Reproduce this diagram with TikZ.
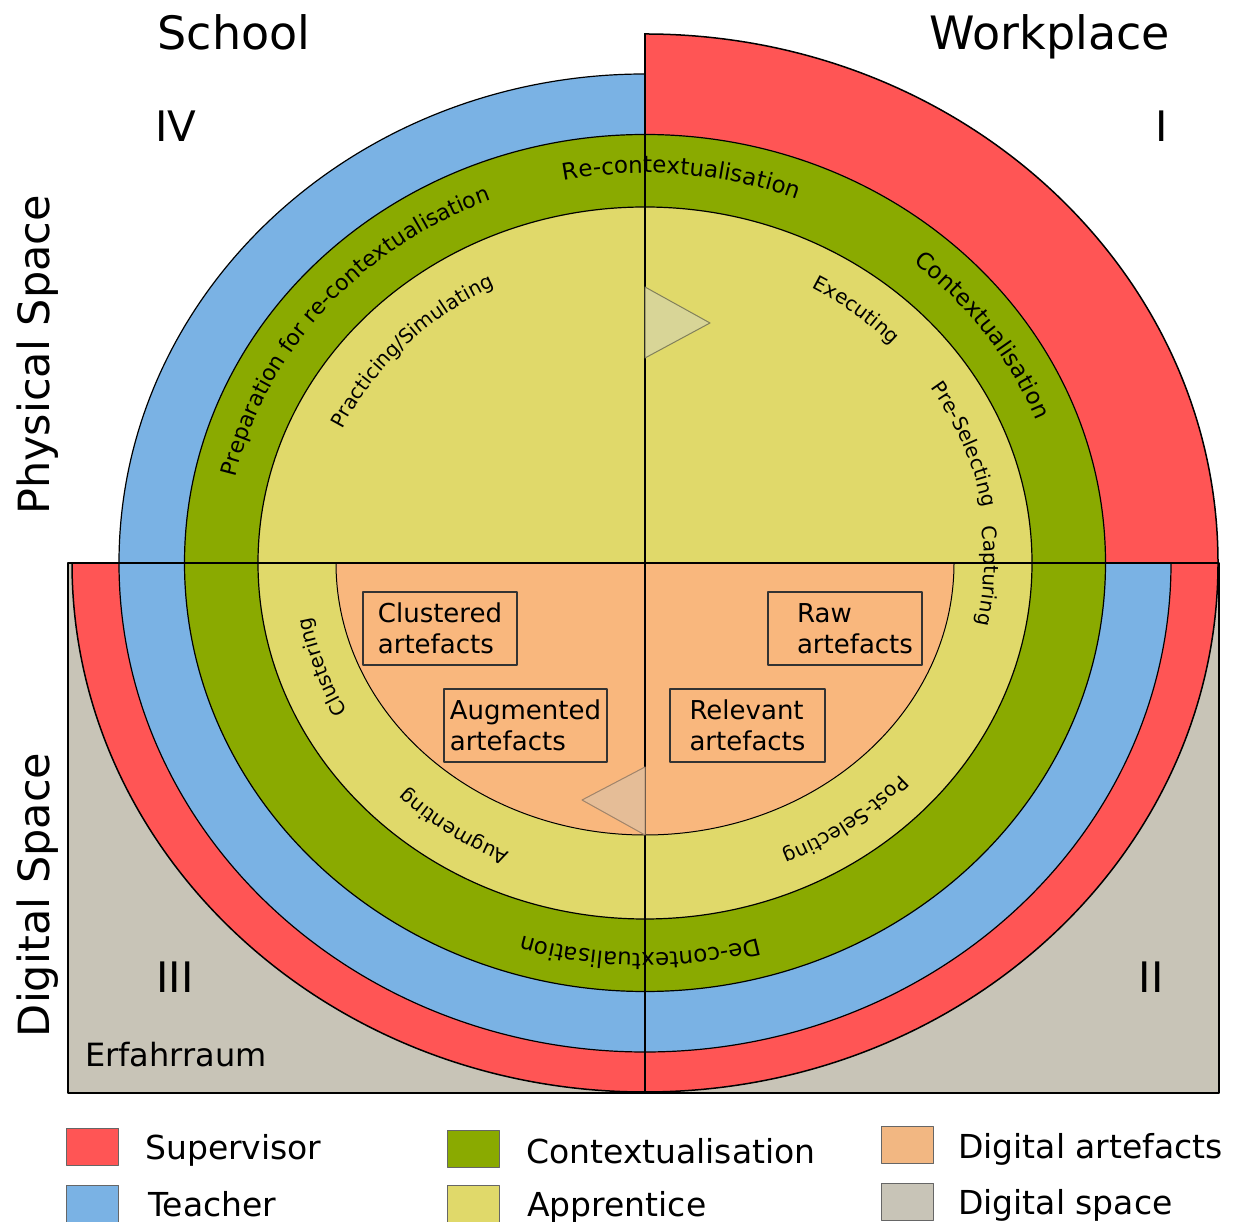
\documentclass[tikz,border=0pt]{standalone}
\usepackage{fontspec}
\setmainfont{DejaVu Sans}
\usetikzlibrary{decorations.text}
\definecolor{supervisor}{HTML}{FF5555}
\definecolor{teacher}{HTML}{7AB2E4}
\definecolor{context}{HTML}{8AAA00}
\definecolor{apprentice}{HTML}{E0D96A}
\definecolor{artefact}{HTML}{F9B77D}
\definecolor{digital}{HTML}{C8C4B7}
\definecolor{paleflag}{HTML}{D8D597}
\definecolor{tanflag}{HTML}{E5BD97}
\newcommand{\bandfont}{\fontsize{23}{28}\selectfont}
\newcommand{\longbandfont}{\fontsize{22}{27}\selectfont}
\newcommand{\phasefont}{\fontsize{20}{24}\selectfont}
\begin{document}
\begin{tikzpicture}[x=1pt, y=1pt, line join=round,
    ring/.style={draw=black, line width=1.2},
    artbox/.style={draw=black!80, fill=artefact, line width=1.1, minimum height=73, inner sep=0pt, align=left, font=\fontsize{26}{31}\selectfont},
    swatch/.style={draw=black!60, line width=1, minimum width=52, minimum height=37, inner sep=0pt},
    legendtext/.style={anchor=base west, font=\fontsize{33}{40}\selectfont},
    title/.style={anchor=base, font=\fontsize{46}{55}\selectfont},
    bandtext/.style={decorate, decoration={text along path, text align=center, text={|\bandfont|#1}}},
    longbandtext/.style={decorate, decoration={text along path, text align=center, text={|\longbandfont|#1}}},
    phasetext/.style={decorate, decoration={text along path, text align=center, text={|\phasefont|#1}}}]
    \useasboundingbox (0,0) rectangle (1234,1221);

    % Define anchors
    \coordinate (centre) at (645,658);
    \coordinate (top) at (645,1188);
    \coordinate (bottom) at (645,128);
    \coordinate (left) at (68,658);
    \coordinate (right) at (1219,658);

    % Digital space
    \draw[fill=digital, line width=1.5] (68,128) rectangle (1219,658);

    % Rings
    \draw[ring, fill=supervisor, line width=1.5] (centre) -- ++(0,529) arc[start angle=90, end angle=-180, x radius=573, y radius=529] -- cycle;
    \draw[ring, fill=teacher] (centre) -- ++(0,489) arc[start angle=90, end angle=360, x radius=526, y radius=489] -- cycle;
    \draw[ring, fill=context] (centre) ellipse[x radius=460.5, y radius=428.5];
    \draw[ring, fill=apprentice] (centre) ellipse[x radius=387, y radius=356];
    \draw[ring, fill=artefact, line width=1] (centre) -- ++(-309,0) arc[start angle=180, end angle=360, x radius=309, y radius=272] -- cycle;

    % Axes
    \draw[line width=1.3] (top) -- (bottom);
    \draw[line width=1.3] (left) -- (right);

    % Triangles
    \draw[fill=paleflag, draw=paleflag!60!black, line width=1] (645,934) -- (710,898) -- (645,863) -- cycle;
    \draw[fill=tanflag, draw=tanflag!70!black, line width=1] (645,454) -- (582,421) -- (645,386) -- cycle;

    % Artefact boxes
    \node[artbox, minimum width=154] (clustered) at (440,592.5) {Clustered\\artefacts};
    \node[artbox, minimum width=163] (augmented) at (525.5,495.5) {Augmented\\artefacts};
    \node[artbox, minimum width=154] (raw) at (845,592.5) {\hspace*{20pt}Raw\\\hspace*{20pt}artefacts};
    \node[artbox, minimum width=155] (relevant) at (747.5,495.5) {Relevant\\artefacts};

    % Band labels
    \path[bandtext=Re-contextualisation, shift={(centre)}] (144.7:420 and 390) arc[start angle=144.7, end angle=24.7, x radius=420, y radius=390];
    \path[bandtext=Contextualisation, shift={(centre)}] (94.5:420 and 390) arc[start angle=94.5, end angle=-25.5, x radius=420, y radius=390];
    \path[longbandtext=Preparation for re-contextualisation, shift={(centre)}] (200.5:420 and 390) arc[start angle=200.5, end angle=80.5, x radius=420, y radius=390];
    \path[bandtext=De-contextualisation, shift={(centre)}] (-30.7:420 and 390) arc[start angle=-30.7, end angle=-150.7, x radius=420, y radius=390];

    % Phase labels
    \path[phasetext=Practicing/Simulating, shift={(centre)}] (197:336 and 309) arc[start angle=197, end angle=77, x radius=336, y radius=309];
    \path[phasetext=Executing, shift={(centre)}] (101:342 and 315) arc[start angle=101, end angle=1, x radius=342, y radius=315];
    \path[phasetext=Pre-Selecting, shift={(centre)}] (71:343 and 316) arc[start angle=71, end angle=-29, x radius=343, y radius=316];
    \path[phasetext=Capturing, shift={(centre)}] (47.8:339 and 312) arc[start angle=47.8, end angle=-52.2, x radius=339, y radius=312];
    \path[phasetext=Post-Selecting, shift={(centre)}] (-3:343 and 316) arc[start angle=-3, end angle=-103, x radius=343, y radius=316];
    \path[phasetext=Augmenting, shift={(centre)}] (285:342 and 315) arc[start angle=285, end angle=185, x radius=342, y radius=315];
    \path[phasetext=Clustering, shift={(centre)}] (248.4:339 and 312) arc[start angle=248.4, end angle=148.4, x radius=339, y radius=312];

    % Titles
    \node[title] (school) at (234,1171) {School};
    \node[title] (workplace) at (1050,1171) {Workplace};
    \node[title, font=\fontsize{42}{50}\selectfont] (q4) at (176,1079) {IV};
    \node[title, font=\fontsize{42}{50}\selectfont] (q1) at (1162,1079) {I};
    \node[title, font=\fontsize{42}{50}\selectfont] (q3) at (175,228) {III};
    \node[title, font=\fontsize{42}{50}\selectfont] (q2) at (1151,228) {II};
    \node[anchor=base, rotate=90, font=\fontsize{43}{52}\selectfont] (physical) at (50,866) {Physical Space};
    \node[anchor=base, rotate=90, font=\fontsize{43}{52}\selectfont] (digitalsp) at (50,326) {Digital Space};
    \node[anchor=base west, inner sep=0pt, font=\fontsize{32}{38}\selectfont] (erfahr) at (85,154) {Erfahrraum};

    % Legend
    \node[swatch, fill=supervisor] (sw1) at (92.5,74.5) {};
    \node[swatch, fill=teacher] (sw2) at (92.5,17.5) {};
    \node[swatch, fill=context] (sw3) at (473,72.5) {};
    \node[swatch, fill=apprentice] (sw4) at (473,17.5) {};
    \node[swatch, fill=artefact!85!brown!90!white] (sw5) at (907.5,76) {};
    \node[swatch, fill=digital] (sw6) at (907.5,19.5) {};
    \node[legendtext, inner sep=0pt] (lg1) at (145,62) {Supervisor};
    \node[legendtext, inner sep=0pt] (lg2) at (148,5) {Teacher};
    \node[legendtext, inner sep=0pt] (lg3) at (526,58) {Contextualisation};
    \node[legendtext, inner sep=0pt] (lg4) at (527,5) {Apprentice};
    \node[legendtext, inner sep=0pt] (lg5) at (958,63) {Digital artefacts};
    \node[legendtext, inner sep=0pt] (lg6) at (958,7) {Digital space};

\end{tikzpicture}
\end{document}
